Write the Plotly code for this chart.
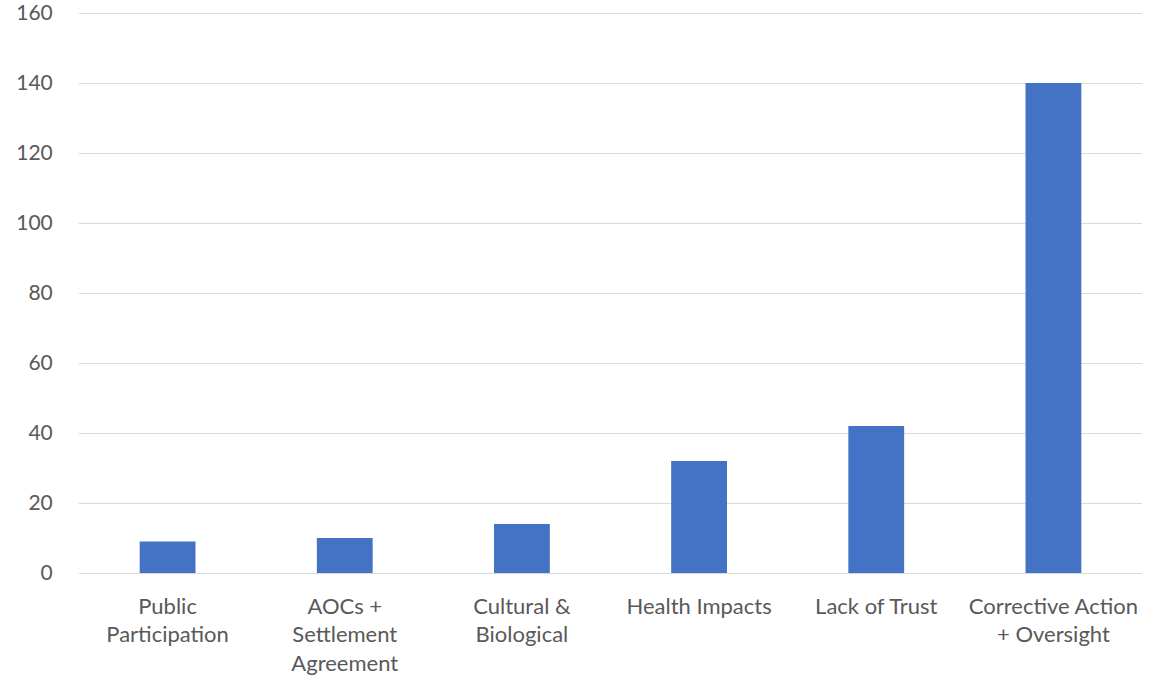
import plotly.graph_objects as go

categories = ["Public<br>Participation", "AOCs +<br>Settlement<br>Agreement", "Cultural &<br>Biological",
              "Health Impacts", "Lack of Trust", "Corrective Action<br>+ Oversight"]
values = [9, 10, 14, 32, 42, 140]
y_ticks = [0, 20, 40, 60, 80, 100, 120, 140, 160]

fig = go.Figure(go.Bar(x=categories, y=values, marker=dict(color="#4472C4", line=dict(width=0)),
                       hoverinfo="x+y"))

font = dict(family="Lato, Carlito, Calibri, sans-serif", size=22, color="#595959")
yfont = dict(family="Lato, Carlito, Calibri, sans-serif", size=21, color="#595959")
fig.update_layout(
    width=1164, height=677,
    margin=dict(l=79, r=22, t=12, b=104),
    paper_bgcolor="white", plot_bgcolor="white",
    bargap=0.685,
    font=font,
    showlegend=False,
)
fig.update_yaxes(range=[0, 160.3], tickvals=y_ticks, showgrid=True, gridcolor="#d9d9d9", gridwidth=1.3,
                 zeroline=False, showline=False, ticks="outside", ticklen=21, tickcolor="rgba(0,0,0,0)",
                 tickfont=yfont, automargin=False, ticklabeloverflow="allow")
fig.update_xaxes(showline=True, linecolor="#d9d9d9", linewidth=1.3, ticks="outside", ticklen=13,
                 tickcolor="rgba(0,0,0,0)", tickfont=font, automargin=False)

fig.write_html("out.html")
